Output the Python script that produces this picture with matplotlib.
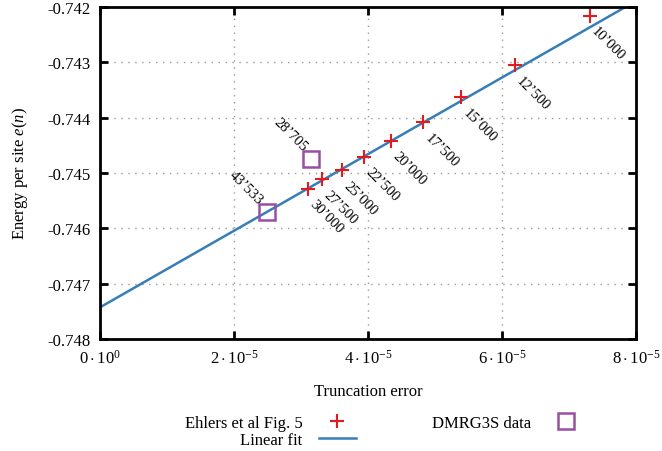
import numpy as np
import matplotlib as mpl
mpl.use('Agg')
import matplotlib.pyplot as plt

# Ehlers et al Fig. 5 points (truncation error, energy per site)
ehlers_err = [7.31e-5, 6.19e-5, 5.39e-5, 4.82e-5, 4.34e-5, 3.94e-5, 3.61e-5, 3.31e-5, 3.10e-5]
ehlers_e = [-0.74216, -0.74305, -0.74363, -0.74408, -0.74442, -0.74471, -0.74495, -0.74511, -0.74529]
ehlers_lbl = ["10’000", "12’500", "15’000", "17’500", "20’000", "22’500", "25’000", "27’500", "30’000"]

# DMRG3S data
dmrg_err = [3.15e-5, 2.49e-5]
dmrg_e = [-0.74475, -0.74571]
dmrg_lbl = ["28’705", "43’533"]

# Linear fit parameters
fit_intercept = -0.74743
fit_slope = 69.3

xticks = [0, 2e-5, 4e-5, 6e-5, 8e-5]
xtick_lbl = [r'$0\cdot10^{0}$', r'$2\cdot10^{-5}$', r'$4\cdot10^{-5}$', r'$6\cdot10^{-5}$', r'$8\cdot10^{-5}$']
yticks = [-0.748, -0.747, -0.746, -0.745, -0.744, -0.743, -0.742]

mpl.rcParams['font.family'] = 'Liberation Serif'
mpl.rcParams['font.size'] = 12
mpl.rcParams['mathtext.fontset'] = 'custom'
mpl.rcParams['mathtext.rm'] = 'Liberation Serif'
mpl.rcParams['mathtext.it'] = 'Liberation Serif:italic'
mpl.rcParams['axes.linewidth'] = 2

red = '#e41a1c'
blue = '#377eb8'
purple = '#984ea3'

fig = plt.figure(figsize=(6.62, 4.52), dpi=100)
ax = fig.add_axes([0.151, 0.248, 0.81, 0.734])

# Fit line
xs = np.array([0, 8e-5])
h_fit, = ax.plot(xs, fit_intercept + fit_slope * xs, color=blue, lw=1.8, label='Linear fit', zorder=2)

h_e, = ax.plot(ehlers_err, ehlers_e, ls='none', marker='+', ms=10, mew=1.5, color=red,
               label='Ehlers et al Fig. 5', zorder=3)
h_d, = ax.plot(dmrg_err, dmrg_e, ls='none', marker='s', ms=11, mew=1.8, mfc='none', color=purple,
               label='DMRG3S data', zorder=3)

for x, y, s in zip(ehlers_err, ehlers_e, ehlers_lbl):
    ax.annotate(s, (x, y), xytext=(6, -6), textcoords='offset points', rotation=-45,
                rotation_mode='anchor', ha='left', va='top', fontsize=10.5)
for x, y, s in zip(dmrg_err, dmrg_e, dmrg_lbl):
    ax.annotate(s, (x, y), xytext=(-8, 4), textcoords='offset points', rotation=-45,
                rotation_mode='anchor', ha='right', va='bottom', fontsize=10.5)

ax.set_xlim(0, 8e-5)
ax.set_ylim(-0.748, -0.742)
ax.set_xticks(xticks)
ax.set_xticklabels(xtick_lbl)
ax.set_yticks(yticks)
ax.set_yticklabels(['%.3f' % v for v in yticks])
ax.tick_params(direction='in', length=6, width=2, top=True, right=True, pad=7)
ax.grid(True, ls=(0, (1, 4)), color='#999999', lw=1)

ax.set_xlabel('Truncation error', labelpad=12)
ax.set_ylabel(r'Energy per site $e(n)$', labelpad=12)

fig.legend(handles=[h_e, h_fit, h_d], ncol=2, markerfirst=False, frameon=False,
           loc='center', bbox_to_anchor=(0.581, 0.043), columnspacing=4.6,
           handlelength=2.2, handletextpad=1.0, labelspacing=0.05, fontsize=12)

fig.savefig('out.png', dpi=100)
